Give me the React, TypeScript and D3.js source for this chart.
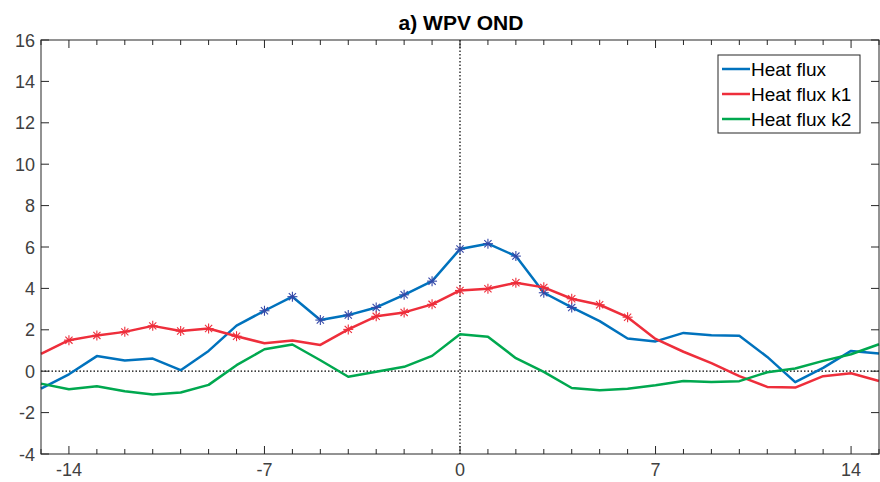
import React from "react";
import * as d3 from "d3";

const lags = d3.range(-15, 16);
const heatFlux = [-0.84, -0.15, 0.73, 0.52, 0.61, 0.05, 0.98, 2.2, 2.92, 3.6, 2.47, 2.71, 3.08, 3.69, 4.35, 5.9, 6.16, 5.56, 3.79, 3.08, 2.42, 1.58, 1.44, 1.85, 1.74, 1.71, 0.69, -0.53, 0.16, 0.98, 0.85];
const heatFluxK1 = [0.84, 1.5, 1.73, 1.9, 2.19, 1.94, 2.06, 1.69, 1.35, 1.48, 1.27, 2.02, 2.65, 2.84, 3.23, 3.9, 3.98, 4.27, 4.05, 3.5, 3.21, 2.61, 1.56, 0.94, 0.39, -0.24, -0.76, -0.79, -0.24, -0.1, -0.47];
const heatFluxK2 = [-0.6, -0.87, -0.73, -0.97, -1.13, -1.03, -0.66, 0.29, 1.06, 1.29, 0.53, -0.27, -0.03, 0.21, 0.74, 1.79, 1.66, 0.63, -0.03, -0.81, -0.92, -0.85, -0.68, -0.47, -0.52, -0.48, -0.05, 0.13, 0.5, 0.82, 1.3];
const sigHeatFlux = [-7, -6, -5, -4, -3, -2, -1, 0, 1, 2, 3, 4];
const sigK1 = [-14, -13, -12, -11, -10, -9, -8, -4, -3, -2, -1, 0, 1, 2, 3, 4, 5, 6];
const xTicks = [-14, -7, 0, 7, 14];
const yTicks = [-4, -2, 0, 2, 4, 6, 8, 10, 12, 14, 16];
const seriesNames = ["Heat flux", "Heat flux k1", "Heat flux k2"];
const colors = ["#0072BD", "#EE2E3B", "#00A84F"];
const starColors = ["#3548A8", "#EE2E3B"];

const W = 880, H = 482;
const L = 41, R = 879, T = 40, B = 454;

function Star({ x, y, color }: { x: number; y: number; color: string }) {
  const r = 5, d = r * 0.72;
  return (
    <g stroke={color} strokeWidth={1.1}>
      <line x1={x - r} y1={y} x2={x + r} y2={y} />
      <line x1={x} y1={y - r} x2={x} y2={y + r} />
      <line x1={x - d} y1={y - d} x2={x + d} y2={y + d} />
      <line x1={x - d} y1={y + d} x2={x + d} y2={y - d} />
    </g>
  );
}

export default function App() {
  const x = d3.scaleLinear().domain([-15, 15]).range([L, R]);
  const y = d3.scaleLinear().domain([-4, 16]).range([B, T]);
  const series = [heatFlux, heatFluxK1, heatFluxK2];
  const line = d3.line<number>().x((_, i) => x(lags[i])).y((v) => y(v));
  const minor = d3.range(-15, 16).filter((v) => !xTicks.includes(v));
  const axisColor = "#262626";
  const font = "Liberation Sans, Arial, Helvetica, sans-serif";
  const sigs = [sigHeatFlux, sigK1];

  return (
    <svg width={W} height={H} style={{ position: "absolute", left: 0, top: 0, background: "#fff" }}>
      <rect x={0} y={0} width={W} height={H} fill="#fff" />
      <text x={461} y={30} textAnchor="middle" fontFamily={font} fontWeight="bold" fontSize={21} fill="#000">a) WPV OND</text>
      {/* zero lines */}
      <line x1={L} x2={R} y1={y(0)} y2={y(0)} stroke="#000" strokeWidth={1.2} strokeDasharray="1.5 2" />
      <line x1={x(0)} x2={x(0)} y1={T} y2={B} stroke="#000" strokeWidth={1.2} strokeDasharray="1.5 2" />
      {/* series */}
      {series.map((s, k) => (
        <path key={k} d={line(s) || ""} fill="none" stroke={colors[k]} strokeWidth={2.5} strokeLinejoin="round" />
      ))}
      {sigs.map((sig, k) =>
        sig.map((lag) => {
          const i = lags.indexOf(lag);
          return <Star key={`${k}-${lag}`} x={x(lag)} y={y(series[k][i])} color={starColors[k]} />;
        })
      )}
      {/* axes box */}
      <rect x={L} y={T} width={R - L} height={B - T} fill="none" stroke={axisColor} strokeWidth={1} />
      {yTicks.map((t) => (
        <g key={t}>
          <line x1={L} x2={L + 8} y1={y(t)} y2={y(t)} stroke={axisColor} />
          <line x1={R} x2={R - 8} y1={y(t)} y2={y(t)} stroke={axisColor} />
          <text x={35} y={y(t) + 6.5} textAnchor="end" fontFamily={font} fontSize={18} fill="#404040">{t}</text>
        </g>
      ))}
      {xTicks.map((t) => (
        <g key={t}>
          <line x1={x(t)} x2={x(t)} y1={B} y2={B - 8} stroke={axisColor} />
          <line x1={x(t)} x2={x(t)} y1={T} y2={T + 8} stroke={axisColor} />
          <text x={x(t)} y={476} textAnchor="middle" fontFamily={font} fontSize={18} fill="#404040">{t}</text>
        </g>
      ))}
      {minor.map((t) => (
        <g key={t}>
          <line x1={x(t)} x2={x(t)} y1={B} y2={B - 5} stroke={axisColor} />
          <line x1={x(t)} x2={x(t)} y1={T} y2={T + 5} stroke={axisColor} />
        </g>
      ))}
      {/* legend */}
      <rect x={718} y={55} width={142} height={78} fill="#fff" stroke={axisColor} strokeWidth={1} />
      {seriesNames.map((n, k) => (
        <g key={n}>
          <line x1={722} x2={750} y1={69 + k * 25} y2={69 + k * 25} stroke={colors[k]} strokeWidth={2.5} />
          <text x={751} y={69 + k * 25 + 7} fontFamily={font} fontSize={19} fill="#000">{n}</text>
        </g>
      ))}
    </svg>
  );
}
